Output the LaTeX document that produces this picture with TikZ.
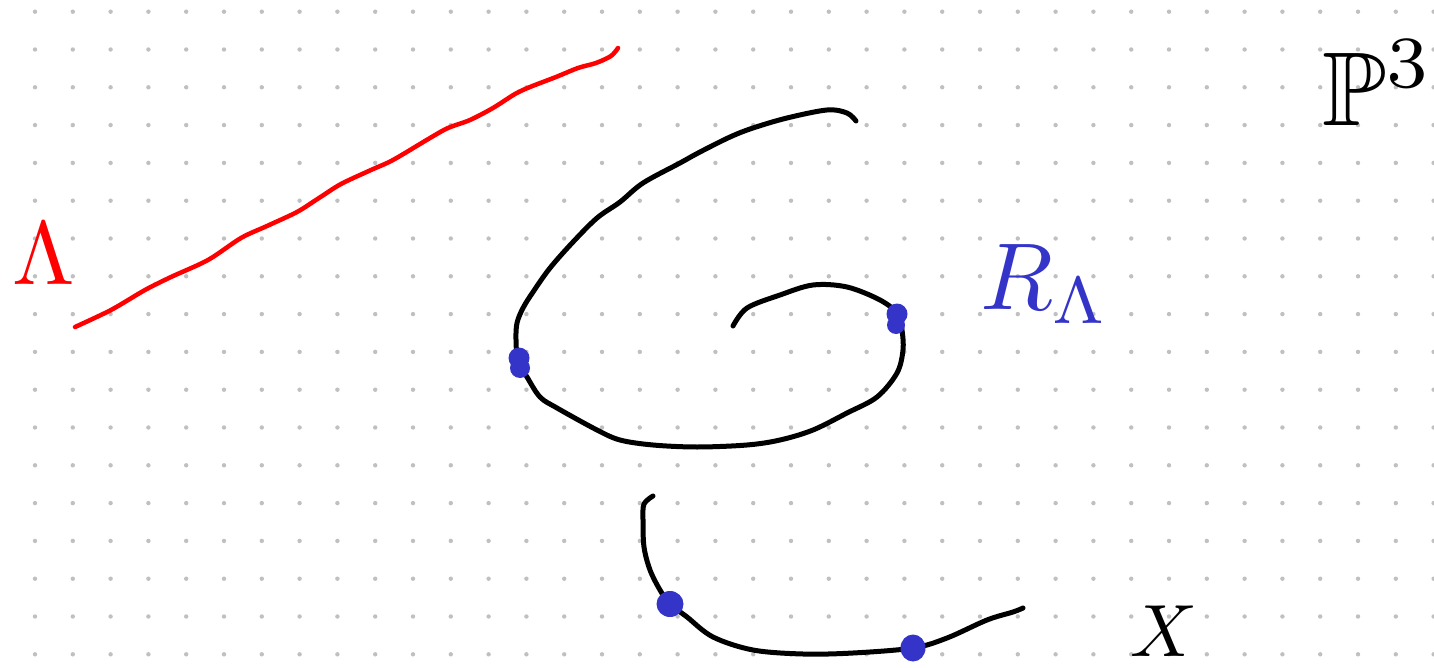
\documentclass[tikz,border=0pt]{standalone}
\usepackage{amssymb}
\definecolor{dotgray}{RGB}{192,192,192}
\definecolor{inkblue}{RGB}{52,52,200}
\definecolor{inkred}{RGB}{255,0,0}
\begin{document}
\begin{tikzpicture}[x=1pt,y=-1pt,
  griddot/.style={fill=dotgray},
  blackink/.style={draw=black, line width=5pt, line cap=round, line join=round},
  redink/.style={draw=inkred, line width=4.5pt, line cap=round, line join=round},
  blob/.style={fill=inkblue},
  lbl/.style={inner sep=0pt, outer sep=0pt}]
\useasboundingbox (0,0) rectangle (1434,668);
\fill[white] (0,0) rectangle (1434,668);
% dot grid
\foreach \i in {0,...,37}{
  \foreach \j in {0,...,17}{
    \fill[griddot] ({35+37.8*\i},{11.7+37.8*\j}) circle[radius=2.2];
  }
}
% red line
\draw[redink] plot[smooth, tension=0.5] coordinates {
 (75,327) (111,310) (145,290) (171,277) (208,260) (241,238) (267,226)
 (297,212) (319,198) (341,184) (371,170) (393,160) (430,138) (448,128)
 (470,120) (493,108) (515,94) (530,87) (556,77) (578,68) (596,63)
 (611,56) (618,48)};
% spiral
\draw[blackink] plot[smooth, tension=0.55] coordinates {
 (733,326) (747,308) (780,295) (813,285) (847,287) (880,300) (898,314)
 (902,330) (903,350) (897,373) (877,397) (847,413) (813,430) (780,440)
 (747,445) (697,447) (653,445) (620,440) (597,430) (557,408) (540,397)
 (527,377) (518,361) (516,340) (517,323) (523,308) (533,292) (550,268)
 (573,242) (597,218) (620,202) (643,183) (680,163) (700,152) (730,137)
 (753,128) (787,118) (827,110) (847,113) (856,121)};
% lower curve
\draw[blackink] plot[smooth, tension=0.55] coordinates {
 (653,496) (644,504) (643,520) (644,547) (650,570) (660,590) (670,604)
 (687,617) (713,637) (753,650) (803,654) (853,653) (913,648) (947,638)
 (987,620) (1013,612) (1023,608)};
% blue points
\fill[blob] (519,358) circle[radius=10.5];
\fill[blob] (520,368) circle[radius=10];
\fill[blob] (897,314) circle[radius=10.5];
\fill[blob] (896,325) circle[radius=9];
\fill[blob] (670,604) ellipse[x radius=13.5, y radius=13];
\fill[blob] (913,648) ellipse[x radius=12.5, y radius=13.5];
% labels
\node[lbl, text=inkred] (lam) at (44,254) {\scalebox{9}{$\Lambda$}};
\node[lbl, text=inkblue, anchor=base west] (rl) at (980,309) {\scalebox{9.5}{$R_{\Lambda}$}};
\node[lbl, text=black, anchor=base west] (p3) at (1322,126) {\scalebox{10.5}{$\mathbb{P}^3$}};
\node[lbl, text=black, anchor=base west] (xx) at (1130,656) {\scalebox{7.4}{$X$}};
\end{tikzpicture}
\end{document}
